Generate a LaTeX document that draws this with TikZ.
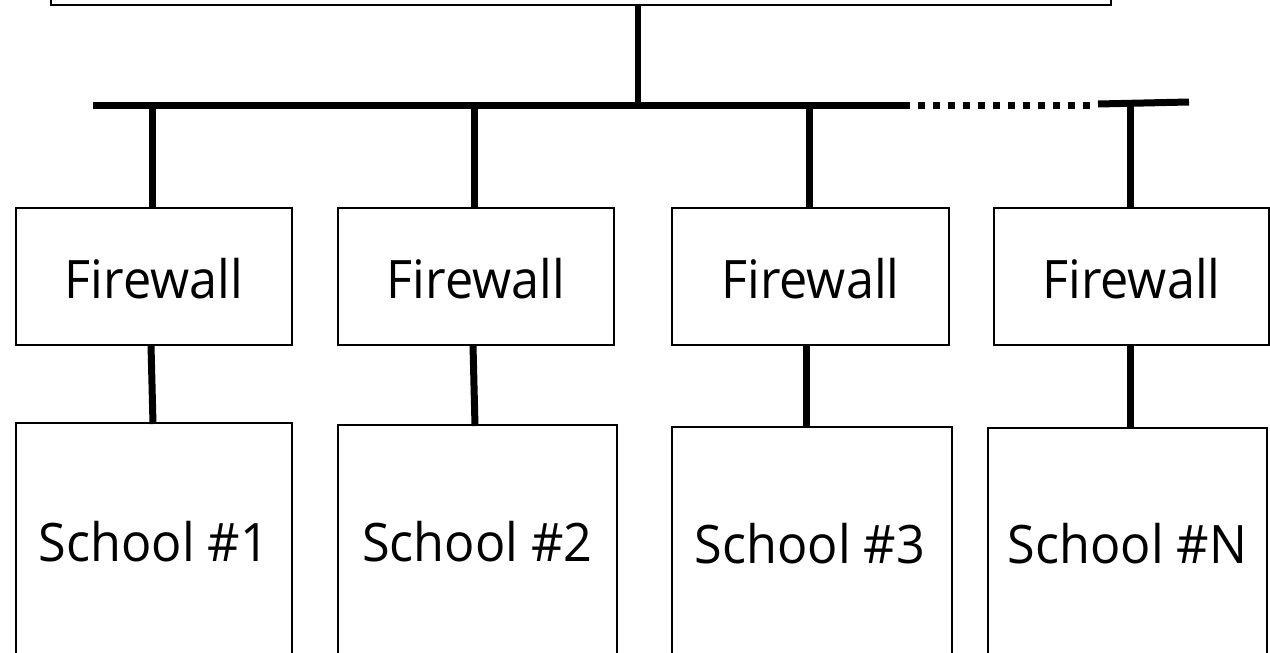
\documentclass[tikz,border=0pt]{standalone}
\usepackage{fontspec}
\setmainfont[FakeStretch=0.95]{Open Sans}
\begin{document}
\begin{tikzpicture}[x=1pt,y=-1pt,
  box/.style={draw=black,line width=2pt,fill=white,inner sep=0pt,outer sep=0pt},
  lbl/.style={font=\fontsize{53}{60}\selectfont,inner sep=0pt,anchor=base},
  link/.style={line width=7pt,line cap=butt},
  dotlink/.style={line width=7pt,dash pattern=on 7pt off 8pt}]
\useasboundingbox (0,0) rectangle (1270,653);
% top box (cut off at top)
\node[box,minimum width=1060pt,minimum height=60pt] (top) at (581,-25) {};
% bus
\coordinate (busL) at (93,105.5);
\coordinate (busM) at (903,105.5);
\coordinate (busD) at (1095,105.5);
\coordinate (busR1) at (1098,104);
\coordinate (busR2) at (1189,102);
\coordinate (busT) at (638,105.5);
\draw[link] (busL) -- (busM);
\draw[dotlink] (busM) -- (busD);
\draw[link] (busR1) -- (busR2);
\draw[line width=6pt] (top.south -| busT) -- (busT);
% firewalls
\node[box,minimum width=276pt,minimum height=137pt] (fw1) at (154,276.5) {};
\node[box,minimum width=276pt,minimum height=137pt] (fw2) at (476,276.5) {};
\node[box,minimum width=277pt,minimum height=137pt] (fw3) at (810.5,276.5) {};
\node[box,minimum width=275pt,minimum height=137pt] (fw4) at (1131.5,276.5) {};
\node[lbl] (fw1t) at (154,298) {Firewall};
\node[lbl] (fw2t) at (476,298) {Firewall};
\node[lbl] (fw3t) at (810.5,298) {Firewall};
\node[lbl] (fw4t) at (1131.5,298) {Firewall};
% schools (cut off at bottom)
\node[box,minimum width=276pt,minimum height=260pt] (sc1) at (154,553) {};
\node[box,minimum width=279pt,minimum height=260pt] (sc2) at (477.5,555) {};
\node[box,minimum width=280pt,minimum height=260pt] (sc3) at (812,557) {};
\node[box,minimum width=279pt,minimum height=260pt] (sc4) at (1127.5,558) {};
\node[lbl] (sc1t) at (154,561) {School \#1};
\node[lbl] (sc2t) at (477.5,561) {School \#2};
\node[lbl] (sc3t) at (810,563) {School \#3};
\node[lbl] (sc4t) at (1127.5,563) {School \#N};
% drops from bus to firewalls
\draw[link] (152,109) -- (fw1.north -| 152,0);
\draw[link] (474,109) -- (fw2.north -| 474,0);
\draw[link] (809,109) -- (fw3.north -| 809,0);
\draw[link] (1130,104) -- (fw4.north -| 1130,0);
% firewalls to schools
\draw[link] (fw1.south -| 151,0) -- (153,424);
\draw[link] (fw2.south -| 473,0) -- (475,426);
\draw[link] (fw3.south -| 806.5,0) -- (sc3.north -| 806.5,0);
\draw[link] (fw4.south -| 1130,0) -- (sc4.north -| 1130,0);
\end{tikzpicture}
\end{document}
